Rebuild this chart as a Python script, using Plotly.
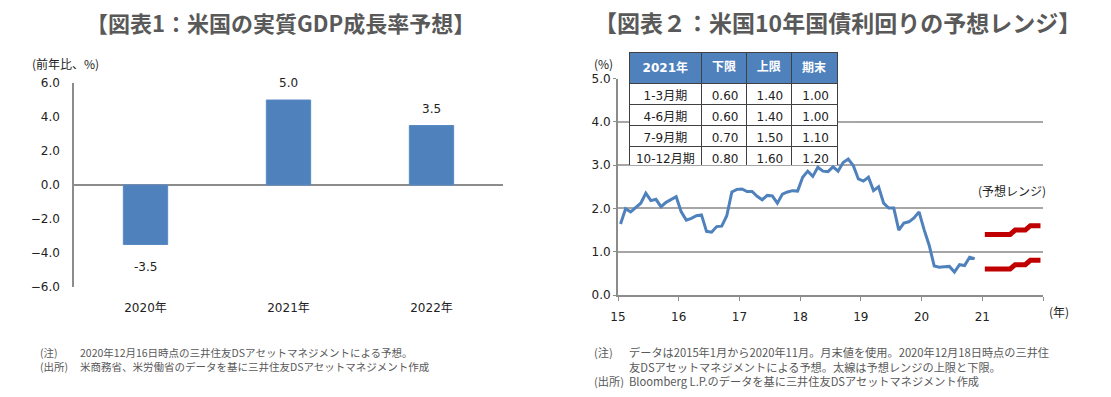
import plotly.graph_objects as go

# ---------------- data ----------------
gdp_categories = ["2020年", "2021年", "2022年"]
gdp_values = [-3.5, 5.0, 3.5]

# US 10y treasury yield, month-end, 2015-01 .. 2020-11
yield_start_year = 2015
yield_values = [
    1.64, 1.99, 1.92, 2.03, 2.12, 2.35, 2.18, 2.21, 2.04, 2.14, 2.21, 2.27,   # 2015
    1.92, 1.73, 1.77, 1.83, 1.85, 1.47, 1.45, 1.58, 1.59, 1.83, 2.38, 2.44,   # 2016
    2.45, 2.39, 2.39, 2.28, 2.20, 2.30, 2.29, 2.12, 2.33, 2.38, 2.41, 2.40,   # 2017
    2.72, 2.86, 2.74, 2.95, 2.86, 2.85, 2.96, 2.86, 3.06, 3.14, 2.99, 2.68,   # 2018
    2.63, 2.72, 2.41, 2.50, 2.12, 2.01, 2.01, 1.50, 1.66, 1.69, 1.78, 1.92,   # 2019
    1.51, 1.15, 0.67, 0.64, 0.65, 0.66, 0.53, 0.70, 0.68, 0.87, 0.84,         # 2020
]

table_periods = ["1-3月期", "4-6月期", "7-9月期", "10-12月期"]
range_lower = [0.60, 0.60, 0.70, 0.80]
range_upper = [1.40, 1.40, 1.50, 1.60]
range_end = [1.00, 1.00, 1.10, 1.20]
forecast_year = 2021

x_tick_years = [15, 16, 17, 18, 19, 20, 21, 22]
x_tick_labels = ["15", "16", "17", "18", "19", "20", "21", ""]

# ---------------- helpers ----------------
W, H = 1111, 397
def px(x):
    return x / W
def py(y):
    return 1 - y / H

def month_pos(year, month):
    # month-center position on a "year - 2000" axis
    return (year - 2000) + (month - 0.5) / 12

yield_x = [month_pos(yield_start_year + i // 12, i % 12 + 1) for i in range(len(yield_values))]
fc_x = [month_pos(forecast_year, m) for m in range(1, 13)]
fc_lower = [range_lower[(m - 1) // 3] for m in range(1, 13)]
fc_upper = [range_upper[(m - 1) // 3] for m in range(1, 13)]

NUM_FONT = "DejaVu Sans, Noto Sans CJK JP, sans-serif"
JP_FONT = "Noto Sans CJK JP, sans-serif"
GRAY = "#595959"
AXIS = "#8c8c8c"
BLUE = "#4F81BD"
RED = "#C00000"
TXT = "#222222"

fig = go.Figure()

# ---------------- left: GDP bars ----------------
fig.add_trace(go.Bar(
    x=gdp_categories, y=gdp_values, width=0.31,
    marker=dict(color=BLUE, line=dict(color="#5a8ac6", width=1)),
    xaxis="x", yaxis="y", showlegend=False, hoverinfo="skip",
))

# ---------------- right: yields ----------------
fig.add_trace(go.Scatter(
    x=yield_x, y=yield_values, mode="lines",
    line=dict(color=BLUE, width=3),
    xaxis="x2", yaxis="y2", showlegend=False, hoverinfo="skip",
))
for series in (fc_upper, fc_lower):
    fig.add_trace(go.Scatter(
        x=fc_x, y=series, mode="lines",
        line=dict(color=RED, width=5),
        xaxis="x2", yaxis="y2", showlegend=False, hoverinfo="skip",
    ))

# ---------------- table ----------------
fig.add_trace(go.Table(
    domain=dict(x=[px(629), px(838)], y=[py(165), py(52)]),
    columnwidth=[73, 45, 45, 46],
    header=dict(
        values=["<b>2021年</b>", "<b>下限</b>", "<b>上限</b>", "<b>期末</b>"],
        fill_color=BLUE, line=dict(color="#404040", width=1),
        font=dict(family=NUM_FONT, size=12, color="white"),
        align="center", height=20,
    ),
    cells=dict(
        values=[table_periods,
                [f"{v:.2f}" for v in range_lower],
                [f"{v:.2f}" for v in range_upper],
                [f"{v:.2f}" for v in range_end]],
        fill_color="white", line=dict(color="#404040", width=1),
        font=dict(family=NUM_FONT, size=12, color=TXT),
        align=["center", "right", "right", "right"], height=21,
    ),
))

# ---------------- layout ----------------
fig.update_layout(
    width=W, height=H,
    margin=dict(l=0, r=0, t=0, b=0, autoexpand=False),
    paper_bgcolor="white", plot_bgcolor="white",
    font=dict(family=NUM_FONT, size=12, color=TXT),
    xaxis=dict(domain=[px(74), px(503)], anchor="y", type="category",
               automargin=False,
               showline=False, ticks="", showgrid=False,
               tickfont=dict(family=NUM_FONT, size=12, color=TXT),
               ticklabelstandoff=12),
    yaxis=dict(domain=[py(287), py(83)], anchor="x", range=[-6, 6],
               automargin=False,
               tickvals=[-6, -4, -2, 0, 2, 4, 6], tickformat=".1f",
               showgrid=False, showline=True, linecolor=AXIS, linewidth=1.5,
               zeroline=True, zerolinecolor=AXIS, zerolinewidth=2,
               ticks="", ticklabelstandoff=10,
               tickfont=dict(family=NUM_FONT, size=12, color=TXT)),
    xaxis2=dict(domain=[px(618), px(1043)], anchor="y2", range=[15, 22],
                automargin=False,
                tickvals=x_tick_years, ticktext=x_tick_labels,
                showline=True, linecolor=AXIS, linewidth=2,
                ticks="outside", ticklen=4, tickcolor=AXIS, showgrid=False,
                zeroline=False, ticklabelstandoff=6,
                tickfont=dict(family=NUM_FONT, size=12, color=TXT)),
    yaxis2=dict(domain=[py(295), py(78.5)], anchor="x2", range=[0, 5],
                automargin=False,
                dtick=1, tickformat=".1f",
                showline=True, linecolor=AXIS, linewidth=2,
                showgrid=True, gridcolor="#a6a6a6", gridwidth=1.5,
                zeroline=False, ticks="outside", ticklen=3, tickcolor=AXIS,
                tickfont=dict(family=NUM_FONT, size=12, color=TXT)),
)

ann = []
def text(x, y, s, size=12, anchor="center", color=TXT, family=NUM_FONT, bold=False, yanchor="middle"):
    ann.append(dict(x=px(x), y=py(y), xref="paper", yref="paper", text=(f"<b>{s}</b>" if bold else s),
                    showarrow=False, xanchor=anchor, yanchor=yanchor, align="left",
                    font=dict(size=size, color=color, family=family)))

# titles
text(280, 22, "【図表1：米国の実質GDP成長率予想】", size=22, color=GRAY, family=JP_FONT, bold=True)
text(837, 22, "【図表２：米国10年国債利回りの予想レンジ】", size=23, color=GRAY, family=JP_FONT, bold=True)

# axis unit labels
text(30, 64, "(前年比、%)", size=12, anchor="left", family=JP_FONT)
text(592, 64, "(%)", size=12, anchor="left", family=JP_FONT)
text(1047, 311, "(年)", size=12, anchor="left", family=JP_FONT)
text(1012, 191, "(予想レンジ)", size=12, family=JP_FONT)

# bar value labels
for c, v in zip(gdp_categories, gdp_values):
    ann.append(dict(x=c, y=v, xref="x", yref="y", text=f"{v:.1f}", showarrow=False,
                    yshift=(17 if v >= 0 else -22), yanchor="middle",
                    font=dict(size=12, family=NUM_FONT, color=TXT)))

# footnotes (multi-line blocks)
FN = 10.5
text(38, 343, "(注)<br>(出所)", size=FN, anchor="left", color=GRAY, family=JP_FONT, yanchor="top")
text(78, 343, "2020年12月16日時点の三井住友DSアセットマネジメントによる予想。<br>"
              "米商務省、米労働省のデータを基に三井住友DSアセットマネジメント作成",
     size=FN, anchor="left", color=GRAY, family=JP_FONT, yanchor="top")
FN2 = 11.2
text(592, 342, "(注)<br><br>(出所)", size=FN2, anchor="left", color=GRAY, family=JP_FONT,
     yanchor="top")
text(627, 342, "データは2015年1月から2020年11月。月末値を使用。2020年12月18日時点の三井住<br>"
               "友DSアセットマネジメントによる予想。太線は予想レンジの上限と下限。<br>"
               "Bloomberg L.P.のデータを基に三井住友DSアセットマネジメント作成",
     size=FN2, anchor="left", color=GRAY, family=JP_FONT, yanchor="top")

fig.update_layout(annotations=ann)
fig.write_html("out.html", config={"displayModeBar": False},
               post_script="document.body.style.margin='0';document.body.style.overflow='hidden';")
